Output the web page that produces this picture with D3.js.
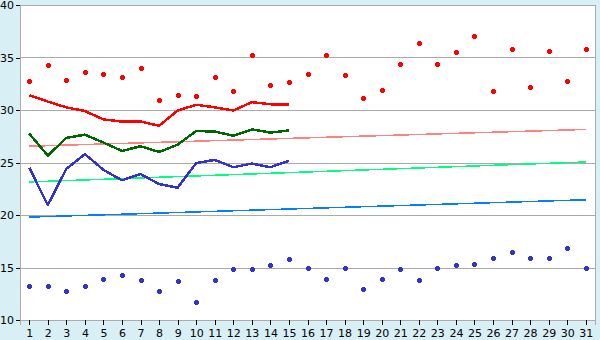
<html>

<body>
    <svg id='viz'></svg>
</body>
<style>
    body {
        margin: 0;
        background: #d9eff6;
    }

    svg {
        display: block;
    }

    .tick text {
        font-family: "DejaVu Sans", sans-serif;
        font-size: 11px;
        fill: #000;
    }
</style>
<script src='https://d3js.org/d3.v7.min.js'></script>
<script>
    var width = 600;
    var height = 340;
    var margin = { top: 5, right: 5, bottom: 20, left: 20 };

    var days = d3.range(1, 32);
    var yTicks = [10, 15, 20, 25, 30, 35, 40];

    // daily max / min (points)
    var maxPoints = [32.8, 34.25, 32.9, 33.6, 33.4, 33.1, 34.0, 31.0, 31.4, 31.3,
        33.1, 31.85, 35.2, 32.35, 32.65, 33.4, 35.2, 33.3, 31.1, 31.95,
        34.35, 36.35, 34.35, 35.5, 37.0, 31.85, 35.85, 32.15, 35.6, 32.8, 35.85];
    var minPoints = [13.2, 13.2, 12.8, 13.2, 13.95, 14.25, 13.85, 12.8, 13.7, 11.7,
        13.8, 14.85, 14.85, 15.25, 15.8, 15.0, 13.95, 15.0, 13.0, 13.95,
        14.85, 13.85, 15.0, 15.25, 15.35, 15.95, 16.45, 15.9, 15.9, 16.85, 14.95];

    // running lines, days 1-15
    var maxLine = [31.4, 30.8, 30.25, 29.9, 29.1, 28.9, 28.9, 28.5, 29.95, 30.5,
        30.25, 29.95, 30.75, 30.55, 30.5];
    var meanLine = [27.75, 25.65, 27.35, 27.65, 26.9, 26.1, 26.55, 26.0, 26.7, 28.0,
        27.95, 27.55, 28.15, 27.85, 28.05];
    var minLine = [24.5, 20.95, 24.4, 25.8, 24.3, 23.3, 23.9, 22.95, 22.6, 24.95,
        25.25, 24.55, 24.9, 24.55, 25.15];

    // normals, first and last day
    var normalDays = [1, 31];
    var normalMax = [26.55, 28.15];
    var normalMean = [23.15, 25.05];
    var normalMin = [19.8, 21.45];

    var svg = d3.select("#viz").attr("width", width).attr("height", height);

    var x = d3.scalePoint()
        .domain(days)
        .range([margin.left, width - margin.right])
        .padding(0.5);

    var y = d3.scaleLinear()
        .domain([10, 40])
        .range([height - margin.bottom, margin.top]);

    // plot background
    svg.append("rect")
        .attr("x", margin.left)
        .attr("y", margin.top)
        .attr("width", width - margin.left - margin.right)
        .attr("height", height - margin.top - margin.bottom)
        .attr("fill", "#fff")
        .attr("stroke", "#aaa")
        .attr("shape-rendering", "crispEdges");

    // grid
    svg.append("g").selectAll("line")
        .data(yTicks.slice(1, -1))
        .enter().append("line")
        .attr("x1", margin.left)
        .attr("x2", width - margin.right)
        .attr("y1", function (d) { return Math.round(y(d)) + 0.5; })
        .attr("y2", function (d) { return Math.round(y(d)) + 0.5; })
        .attr("stroke", "#aaa")
        .attr("shape-rendering", "crispEdges");

    // axes
    var xAxis = svg.append("g")
        .attr("transform", "translate(0," + (height - margin.bottom) + ")")
        .call(d3.axisBottom(x).tickSize(5).tickPadding(4));
    var yAxis = svg.append("g")
        .attr("transform", "translate(" + margin.left + ",0)")
        .call(d3.axisLeft(y).tickValues(yTicks).tickSize(4).tickPadding(2));
    [xAxis, yAxis].forEach(function (a) {
        a.select(".domain").attr("stroke", "#aaa").attr("shape-rendering", "crispEdges");
        a.selectAll(".tick line").attr("stroke", "#000").attr("shape-rendering", "crispEdges");
        a.attr("font-family", null).attr("font-size", null);
    });

    // normal lines
    var normals = [
        { values: normalMax, color: "#ff8080" },
        { values: normalMean, color: "#00ff80" },
        { values: normalMin, color: "#0080ff" }
    ];
    var line2 = d3.line()
        .x(function (d, i) { return x(normalDays[i]); })
        .y(function (d) { return y(d); });
    svg.append("g").selectAll("path")
        .data(normals)
        .enter().append("path")
        .attr("d", function (d) { return line2(d.values); })
        .attr("fill", "none")
        .attr("stroke", function (d) { return d.color; })
        .attr("stroke-width", 1.5)
        .attr("shape-rendering", "crispEdges");

    // running lines
    var runs = [
        { values: maxLine, color: "#ff0000" },
        { values: meanLine, color: "#006600" },
        { values: minLine, color: "#3333cc" }
    ];
    var line = d3.line()
        .x(function (d, i) { return x(days[i]); })
        .y(function (d) { return y(d); });
    svg.append("g").selectAll("path")
        .data(runs)
        .enter().append("path")
        .attr("d", function (d) { return line(d.values); })
        .attr("fill", "none")
        .attr("stroke", function (d) { return d.color; })
        .attr("stroke-width", 2.5)
        .attr("stroke-linejoin", "round")
        .attr("shape-rendering", "crispEdges");

    // point markers: fat plus, 5px across
    var fatPlus = {
        draw: function (ctx) {
            var a = 1.5, b = 2.5;
            ctx.moveTo(-a, -b);
            ctx.lineTo(a, -b);
            ctx.lineTo(a, -a);
            ctx.lineTo(b, -a);
            ctx.lineTo(b, a);
            ctx.lineTo(a, a);
            ctx.lineTo(a, b);
            ctx.lineTo(-a, b);
            ctx.lineTo(-a, a);
            ctx.lineTo(-b, a);
            ctx.lineTo(-b, -a);
            ctx.lineTo(-a, -a);
            ctx.closePath();
        }
    };
    var marker = d3.symbol().type(fatPlus);
    [{ values: maxPoints, color: "#ff0000" }, { values: minPoints, color: "#3333cc" }]
        .forEach(function (s) {
            svg.append("g").selectAll("path")
                .data(s.values)
                .enter().append("path")
                .attr("d", marker)
                .attr("transform", function (d, i) {
                    return "translate(" + (Math.round(x(days[i])) + 0.5) + "," + (Math.round(y(d)) + 0.5) + ")";
                })
                .attr("fill", s.color)
                .attr("shape-rendering", "crispEdges");
        });
</script>

</html>
